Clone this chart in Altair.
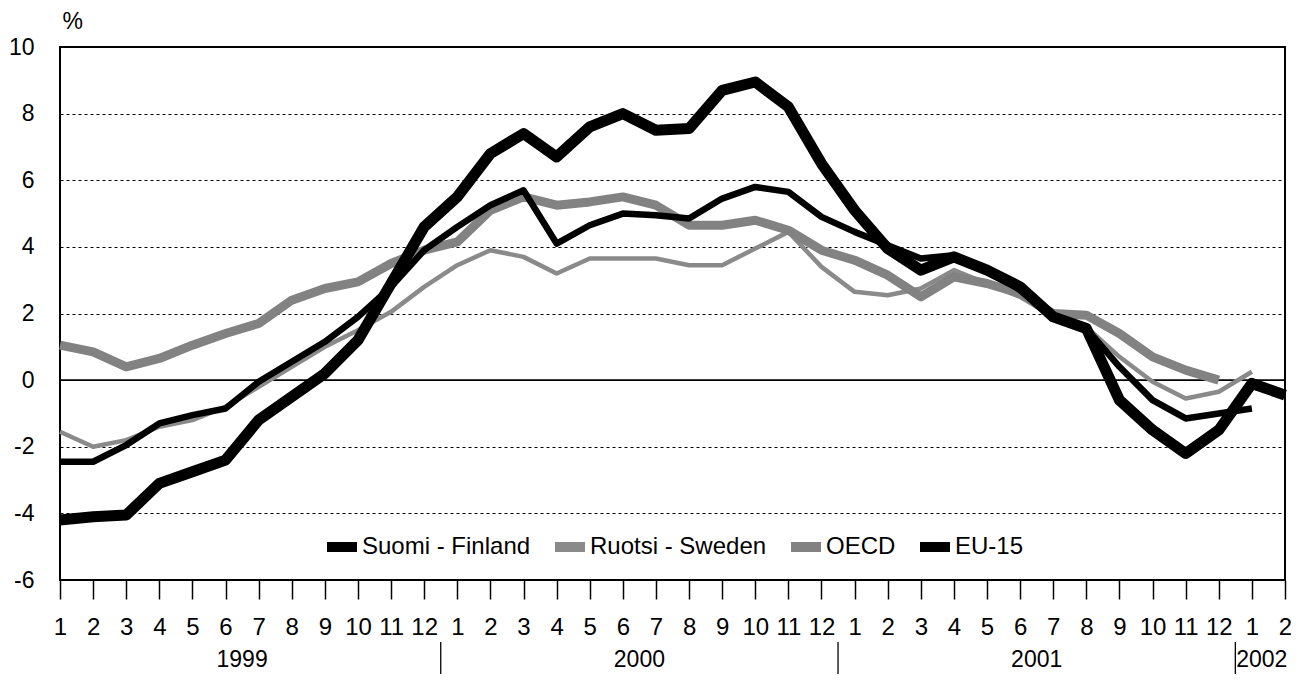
import altair as alt
import pandas as pd

# month index 0 = Jan 1999 ... 37 = Feb 2002
series_names = ["Suomi - Finland", "Ruotsi - Sweden", "OECD", "EU-15"]

finland = [-4.2, -4.1, -4.05, -3.1, -2.75, -2.4, -1.2, -0.5, 0.2, 1.2, 2.9, 4.6,
           5.5, 6.8, 7.4, 6.7, 7.6, 8.0, 7.5, 7.55, 8.7, 8.95, 8.2, 6.5,
           5.1, 3.95, 3.3, 3.7, 3.3, 2.8, 1.9, 1.55, -0.6, -1.5, -2.2, -1.5,
           -0.1, -0.45]
sweden = [-1.55, -2.0, -1.8, -1.4, -1.2, -0.8, -0.2, 0.4, 1.0, 1.5, 2.05, 2.8,
          3.45, 3.9, 3.7, 3.2, 3.65, 3.65, 3.65, 3.45, 3.45, 3.95, 4.45, 3.4,
          2.65, 2.55, 2.75, 3.3, 2.9, 2.5, 1.9, 1.6, 0.7, -0.05, -0.55, -0.35,
          0.25]
oecd = [1.05, 0.85, 0.4, 0.65, 1.05, 1.4, 1.7, 2.4, 2.75, 2.95, 3.5, 3.9,
        4.15, 5.1, 5.5, 5.25, 5.35, 5.5, 5.25, 4.65, 4.65, 4.8, 4.5, 3.9,
        3.6, 3.15, 2.5, 3.1, 2.9, 2.6, 2.0, 1.95, 1.4, 0.7, 0.3, 0.0]
eu15 = [-2.45, -2.45, -1.95, -1.3, -1.05, -0.85, -0.05, 0.55, 1.15, 1.9, 2.8, 3.9,
        4.6, 5.25, 5.7, 4.1, 4.65, 5.0, 4.95, 4.85, 5.45, 5.8, 5.65, 4.9,
        4.45, 4.05, 3.65, 3.75, 3.35, 2.7, 1.9, 1.55, 0.4, -0.6, -1.15, -1.0,
        -0.85]

month_ticks = list(range(38))
y_ticks = [-6, -4, -2, 0, 2, 4, 6, 8, 10]
year_labels = ["1999", "2000", "2001", "2002"]
year_pos = [5.5, 17.5, 29.5, 36.3]
year_sep = [11.5, 23.5, 35.5]

FONT = "Liberation Sans, Arial, sans-serif"
W, H = 1225, 533

data_by_series = {"Suomi - Finland": finland, "Ruotsi - Sweden": sweden,
                  "OECD": oecd, "EU-15": eu15}
rows = []
for name in series_names:
    for i, v in enumerate(data_by_series[name]):
        rows.append({"series": name, "i": i, "v": v})
df = pd.DataFrame(rows)

xscale = alt.Scale(domain=[0, 37], nice=False, zero=False)
yscale = alt.Scale(domain=[-6, 10], nice=False, zero=False)

x_axis = alt.Axis(values=month_ticks, labelExpr="(datum.value % 12) + 1",
                  tickSize=19, tickColor="black", tickWidth=1.5,
                  labelFontSize=24, labelFont=FONT, labelColor="black",
                  labelPadding=16, domain=False, grid=False, title=None,
                  labelFlush=False, labelOverlap=False, labelBound=False)
y_axis = alt.Axis(values=y_ticks, labelExpr="'' + datum.value", grid=True,
                  gridDash=[3, 3], gridColor="black", gridWidth=1, gridOpacity=1,
                  ticks=False, domain=False, labelPadding=26, labelFontSize=23,
                  labelFont=FONT, labelColor="black", title="%", titleAngle=0,
                  titleX=2, titleY=-14, titleAlign="left", titleBaseline="bottom",
                  titleFontWeight="normal", titleFontSize=23, titleFont=FONT,
                  titleColor="black")

X = alt.X("i:Q", scale=xscale, axis=x_axis)
Y = alt.Y("v:Q", scale=yscale, axis=y_axis)

legend = alt.Legend(orient="none", legendX=262, legendY=480, direction="horizontal",
                    title=None, symbolType="stroke", symbolSize=900,
                    symbolStrokeWidth=10,
                    labelFontSize=24, labelFont=FONT, labelColor="black",
                    labelOffset=0, columnPadding=4, labelLimit=0, symbolOpacity=1)

color = alt.Color("series:N",
                  scale=alt.Scale(domain=series_names,
                                  range=["#000000", "#8a8a8a", "#828282", "#000000"]),
                  legend=legend)

widths = {"Ruotsi - Sweden": 4.5, "OECD": 9, "EU-15": 6.5, "Suomi - Finland": 11}
lines = []
for s in ["Ruotsi - Sweden", "OECD", "EU-15", "Suomi - Finland"]:
    lines.append(
        alt.Chart(df).transform_filter(alt.datum.series == s)
        .mark_line(strokeWidth=widths[s], strokeJoin="round")
        .encode(x=X, y=Y, color=color)
    )

zero = alt.Chart(pd.DataFrame({"v": [0]})).mark_rule(color="black", strokeWidth=1.8).encode(y=Y)

years_df = pd.DataFrame({"label": year_labels, "i": year_pos})
years = alt.Chart(years_df).mark_text(fontSize=23, font=FONT, color="black",
                                      baseline="middle", align="center").encode(
    x=X, y=alt.value(H + 80), text="label:N")

sep_df = pd.DataFrame({"i": year_sep})
seps = alt.Chart(sep_df).mark_rule(color="black", strokeWidth=1.3).encode(
    x=X, y=alt.value(H + 62), y2=alt.value(H + 94))

chart = alt.layer(zero, *lines, seps, years).properties(
    width=W, height=H,
    background="white",
    autosize=alt.AutoSizeParams(type="none"),
    padding={"left": 52, "top": 39, "right": 6, "bottom": 94},
).configure_view(stroke="black", strokeWidth=2)

chart.save("out.html", embed_options={"renderer": "svg", "actions": False})
